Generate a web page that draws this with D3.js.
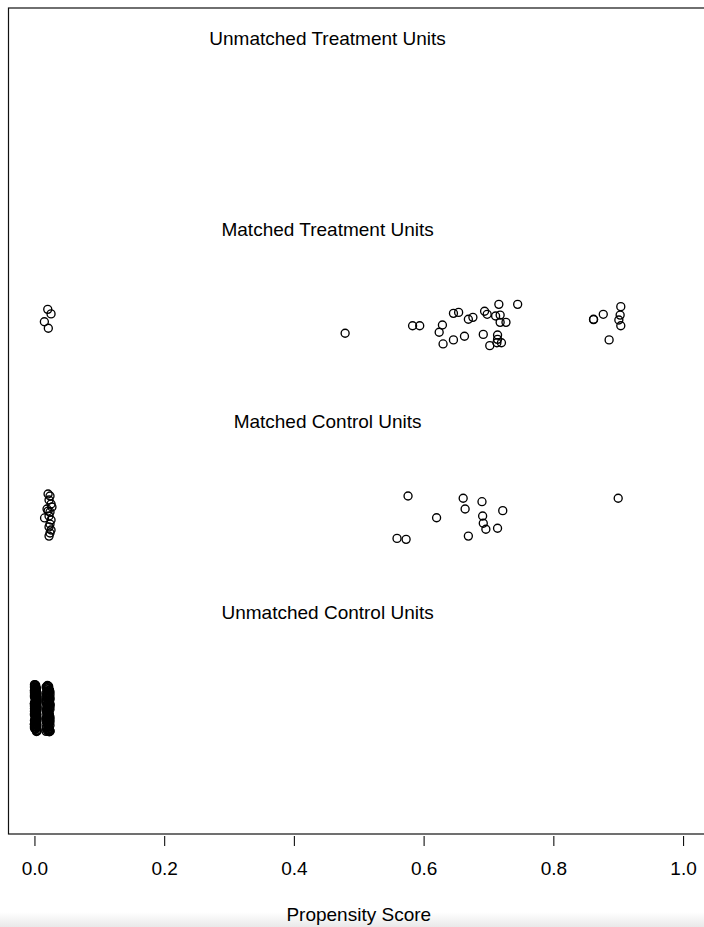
<!DOCTYPE html>
<html>
<head>
<meta charset="utf-8">
<script src="https://cdn.jsdelivr.net/npm/d3@7"></script>
<style>
  html, body { margin: 0; padding: 0; background: #fff; }
  svg { display: block; }
  text { font-family: "Liberation Sans", Arial, Helvetica, sans-serif; fill: #000; }
</style>
</head>
<body>
<svg id="chart" width="704" height="927"></svg>
<script>
// Distribution of propensity scores by matching status (jittered rows)

const groupLabels = ["Unmatched Treatment Units", "Matched Treatment Units", "Matched Control Units", "Unmatched Control Units"];
const groupRows = [4.5, 3.5, 2.5, 1.5];

const xTicks = [0, 0.2, 0.4, 0.6, 0.8, 1.0];
const xTitle = "Propensity Score";

// Matched treatment units (row around 3)
const mtScore = [0.0205, 0.0256, 0.0153, 0.0214,
  0.479, 0.583, 0.594, 0.629, 0.624, 0.630, 0.646, 0.663, 0.646, 0.654,
  0.669, 0.676, 0.694, 0.698, 0.716, 0.745, 0.711, 0.718, 0.718, 0.727,
  0.692, 0.714, 0.714, 0.713, 0.720, 0.702,
  0.862, 0.862, 0.877, 0.904, 0.903, 0.901, 0.904, 0.886];
const mtJitter = [3.084, 3.060, 3.019, 2.985,
  2.959, 2.998, 2.998, 3.002, 2.964, 2.903, 2.924, 2.943, 3.063, 3.068,
  3.032, 3.042, 3.074, 3.058, 3.110, 3.110, 3.049, 3.054, 3.016, 3.016,
  2.953, 2.950, 2.927, 2.909, 2.909, 2.894,
  3.032, 3.030, 3.058, 3.098, 3.054, 3.028, 2.998, 2.924];

// Matched control units (row around 2)
const mcScore = [0.021, 0.024, 0.0225, 0.0256, 0.027, 0.0194, 0.021, 0.024,
  0.0225, 0.0156, 0.0256, 0.024, 0.0225, 0.0256, 0.024, 0.0225,
  0.576, 0.661, 0.664, 0.690, 0.722, 0.620, 0.691, 0.692, 0.696, 0.714,
  0.669, 0.559, 0.573, 0.900];
const mcJitter = [2.118, 2.108, 2.087, 2.066, 2.050, 2.040, 2.029, 2.024,
  2.003, 1.993, 1.982, 1.961, 1.946, 1.930, 1.914, 1.898,
  2.108, 2.096, 2.040, 2.078, 2.031, 1.994, 2.003, 1.965, 1.934, 1.939,
  1.898, 1.886, 1.881, 2.096];

// Unmatched control units (row around 1)
const ucScore = [
  0.002, 0.021, 0.000, 0.019, 0.003, 0.023, 0.001, 0.020, 0.004, 0.024, 0.000, 0.018,
  0.002, 0.022, 0.003, 0.021, 0.001, 0.019, 0.000, 0.024, 0.004, 0.020, 0.002, 0.023,
  0.001, 0.018, 0.003, 0.022, 0.000, 0.021, 0.002, 0.024, 0.004, 0.019, 0.001, 0.020,
  0.003, 0.023, 0.000, 0.022, 0.002, 0.018, 0.001, 0.021, 0.004, 0.024, 0.003, 0.020,
  0.000, 0.019, 0.002, 0.023, 0.001, 0.022, 0.003, 0.021, 0.004, 0.018, 0.000, 0.024,
  0.002, 0.020, 0.001, 0.023, 0.003, 0.019, 0.000, 0.022, 0.004, 0.021, 0.002, 0.024,
  0.001, 0.018, 0.003, 0.020, 0.000, 0.023, 0.002, 0.022, 0.001, 0.019, 0.004, 0.021,
  0.003, 0.024, 0.000, 0.020, 0.002, 0.018, 0.001, 0.023, 0.003, 0.022, 0.000, 0.021,
  0.001, 0.022, 0.003, 0.020, 0.000, 0.024, 0.002, 0.019, 0.004, 0.021, 0.001, 0.023,
  0.003, 0.018, 0.000, 0.022, 0.002, 0.020, 0.004, 0.024, 0.001, 0.019, 0.003, 0.021,
  0.000, 0.023, 0.002, 0.018, 0.004, 0.022, 0.001, 0.020, 0.003, 0.024, 0.000, 0.019,
  0.002, 0.021, 0.004, 0.023, 0.001, 0.018, 0.003, 0.022, 0.000, 0.020, 0.002, 0.024,
  0.004, 0.019, 0.001, 0.021, 0.003, 0.023, 0.000, 0.018, 0.002, 0.022, 0.004, 0.020,
  0.001, 0.024, 0.003, 0.019, 0.000, 0.021, 0.002, 0.023, 0.004, 0.018, 0.001, 0.022,
  0.003, 0.020, 0.000, 0.024, 0.002, 0.019, 0.004, 0.021, 0.001, 0.023, 0.003, 0.018,
  0.000, 0.022, 0.002, 0.020, 0.004, 0.024, 0.001, 0.019, 0.003, 0.021, 0.000, 0.023];
const ucJitter = [
  1.118, 1.115, 1.109, 1.104, 1.097, 1.093, 1.086, 1.081, 1.076, 1.070, 1.066, 1.059,
  1.055, 1.049, 1.044, 1.038, 1.033, 1.027, 1.022, 1.016, 1.012, 1.005, 1.001, 0.995,
  0.990, 0.984, 0.979, 0.973, 0.969, 0.962, 0.957, 0.952, 0.946, 0.941, 0.935, 0.930,
  0.924, 0.919, 0.913, 0.908, 0.903, 0.897, 0.892, 0.886, 0.882, 0.878, 0.876, 0.880,
  1.121, 1.112, 1.101, 1.091, 1.083, 1.073, 1.062, 1.052, 1.041, 1.030, 1.019, 1.008,
  0.998, 0.987, 0.976, 0.966, 0.955, 0.944, 0.934, 0.922, 0.911, 0.900, 0.889, 0.879,
  1.107, 1.078, 1.046, 1.014, 0.982, 0.949, 0.917, 0.885, 1.094, 1.063, 1.025, 0.993,
  0.960, 0.927, 0.894, 1.117, 1.068, 1.035, 0.971, 0.938, 0.906, 1.088, 1.010, 0.959,
  1.120, 1.111, 1.103, 1.099, 1.088, 1.084, 1.075, 1.068, 1.060, 1.057, 1.047, 1.042,
  1.036, 1.031, 1.024, 1.018, 1.011, 1.006, 0.999, 0.993, 0.986, 0.981, 0.975, 0.968,
  0.963, 0.957, 0.950, 0.945, 0.938, 0.933, 0.926, 0.921, 0.915, 0.909, 0.902, 0.895,
  0.890, 0.884, 0.878, 0.875, 1.116, 1.108, 1.096, 1.090, 1.079, 1.071, 1.064, 1.053,
  1.045, 1.039, 1.028, 1.021, 1.014, 1.003, 0.997, 0.989, 0.980, 0.972, 0.965, 0.954,
  0.948, 0.940, 0.929, 0.923, 0.916, 0.905, 0.898, 0.891, 0.883, 0.877, 1.113, 1.100,
  1.085, 1.072, 1.058, 1.043, 1.029, 1.015, 1.000, 0.986, 0.971, 0.956, 0.942, 0.928,
  0.914, 0.899, 1.105, 1.081, 1.050, 1.020, 0.992, 0.964, 0.936, 0.907, 1.092, 0.882];

const svg = d3.select("#chart");
const W = 704, H = 927;

// faint grey strip along the bottom edge
const defs = svg.append("defs");
const grad = defs.append("linearGradient").attr("id", "fade").attr("x1", 0).attr("y1", 0).attr("x2", 0).attr("y2", 1);
grad.append("stop").attr("offset", "0%").attr("stop-color", "#ffffff");
grad.append("stop").attr("offset", "100%").attr("stop-color", "#e9e9e9");
svg.append("rect").attr("x", 0).attr("y", 912).attr("width", W).attr("height", H - 912).attr("fill", "url(#fade)");

const x = d3.scaleLinear().domain([-0.04, 1.04]).range([8.5, 709]);
const y = d3.scaleLinear().domain([0.34, 4.66]).range([834, 8]);

// plot frame
svg.append("rect")
  .attr("x", x(-0.04)).attr("y", y(4.66))
  .attr("width", x(1.04) - x(-0.04)).attr("height", y(0.34) - y(4.66))
  .attr("fill", "none").attr("stroke", "#111").attr("stroke-width", 1.2);

// group headings
svg.append("g").selectAll("text").data(groupLabels).join("text")
  .attr("x", x(0.452))
  .attr("y", (d, i) => y(groupRows[i]))
  .attr("text-anchor", "middle")
  .attr("dominant-baseline", "central")
  .attr("font-size", 19)
  .text(d => d);

// x axis
const axis = svg.append("g")
  .attr("transform", `translate(0,${836})`)
  .call(d3.axisBottom(x).tickValues(xTicks).tickFormat(d3.format(".1f")).tickSize(10).tickPadding(16));
axis.select(".domain").remove();
axis.selectAll(".tick line").attr("stroke", "#111").attr("stroke-width", 1.1);
axis.selectAll(".tick text").attr("font-size", 19).attr("font-family", "Liberation Sans, Arial, sans-serif").attr("fill", "#000");

svg.append("text")
  .attr("x", x(0.5)).attr("y", 914)
  .attr("text-anchor", "middle").attr("dominant-baseline", "central")
  .attr("font-size", 19)
  .text(xTitle);

// points
function drawGroup(scores, jit) {
  const pts = scores.map((s, i) => ({ s, j: jit[i] })).filter(p => p.j !== undefined);
  svg.append("g").selectAll("circle").data(pts).join("circle")
    .attr("cx", d => x(d.s))
    .attr("cy", d => y(d.j))
    .attr("r", 4)
    .attr("fill", "none")
    .attr("stroke", "#000")
    .attr("stroke-width", 1.35);
}
drawGroup(mtScore, mtJitter);
drawGroup(mcScore, mcJitter);
drawGroup(ucScore, ucJitter);
</script>
</body>
</html>
